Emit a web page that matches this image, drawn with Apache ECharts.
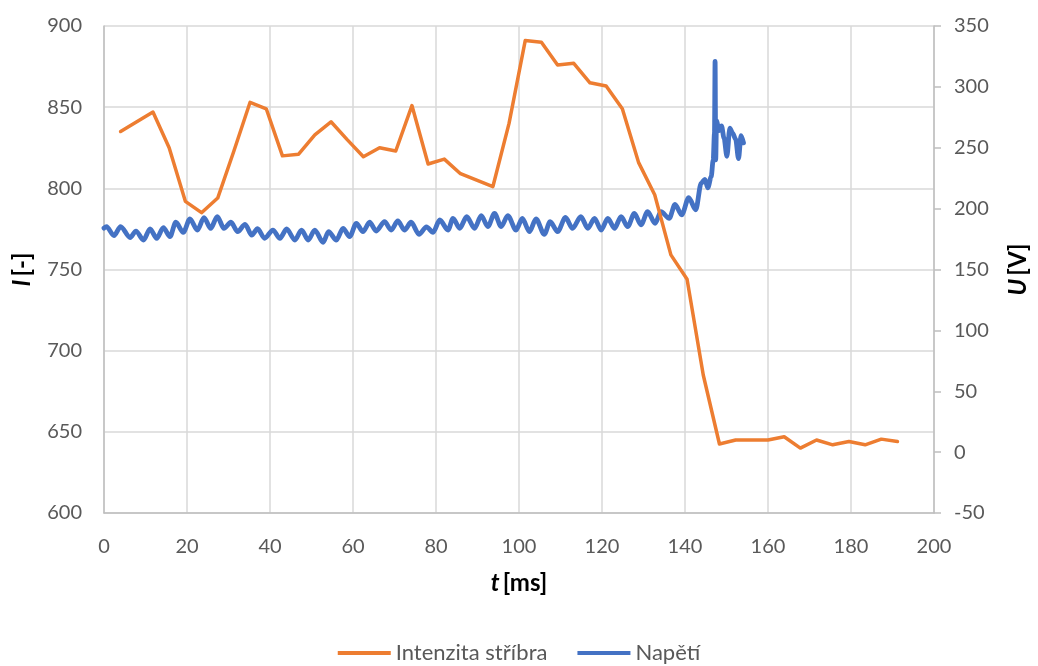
<!DOCTYPE html>
<html>
<head>
<meta charset="utf-8">
<script src="https://cdn.jsdelivr.net/npm/echarts@6/dist/echarts.min.js"></script>
<style>html,body{margin:0;padding:0;background:#fff}#c{width:1038px;height:666px}</style>
</head>
<body>
<div id="c"></div>
<script>
// Intenzita stříbra (left axis)
const silverT = [4.0,7.9,11.8,15.7,19.6,23.5,27.4,31.3,35.2,39.1,43.0,46.9,50.8,54.7,58.6,62.5,66.4,70.3,74.2,78.1,82.0,85.9,89.8,93.7,97.6,101.5,105.4,109.3,113.2,117.1,121.0,124.9,128.8,132.7,136.6,140.5,144.4,148.3,152.2,156.1,160.0,163.9,167.8,171.7,175.6,179.5,183.4,187.3,191.2];
const silverI = [835,841,847,825,792,785,794,823,853,849,820,821,833,841,830,819.5,825,823,851,815,818,809,805,801,840,891,890,876,877,865,863,849,816,796,759,744,685,642.5,645,645,645,647,640,645,642,644,642,645.5,644];

// Napětí (right axis)
const voltT = [0.0,0.6,2.4,4.0,6.3,7.7,9.5,11.1,12.7,14.3,15.9,17.3,19.1,20.7,22.5,24.1,25.7,27.3,28.9,30.6,32.2,34.0,35.6,37.0,38.7,40.7,42.4,44.0,46.0,47.6,49.2,50.8,52.8,54.1,56.0,57.6,59.2,60.8,62.4,64.0,65.6,67.6,69.2,70.8,72.4,74.0,75.9,77.7,79.3,80.9,82.9,84.1,85.7,87.4,89.3,90.9,92.5,94.1,95.7,97.3,99.3,100.8,102.5,104.1,106.1,107.5,109.3,111.2,112.9,114.9,116.6,118.2,119.8,121.4,123.0,124.6,126.2,127.8,129.4,131.0,132.8,134.2,136.2,137.6,139.2,140.9,142.6,143.9,144.8,145.5,146.3,146.8,147.1,147.25,147.4,147.6,148.2,148.8,149.4,150.1,150.8,151.5,152.2,152.9,153.5,154.1];
const voltU = [184,185.2,177.8,185.2,176.2,181.6,174.2,183.3,175.6,184.4,177,188.8,180.5,191.5,182.4,192.6,183.8,193.4,183.8,188.8,181.1,187.1,178.3,183.5,175.6,182.4,175.6,183.3,174.2,182.4,174.2,182.4,172.3,181.1,174.2,183.8,177,187.9,181.1,188.8,181.6,189.3,182.4,189.9,182.4,188.8,178.9,185.0,180.5,190.7,182.4,192.0,183.8,193.4,183.8,194.2,185.2,196.1,185.2,194.2,182.4,192.0,181.1,191.5,178.9,189.3,181.1,192.7,183.8,193.4,183.8,192.0,182.4,192.0,183.8,193.4,185.2,196.1,186.6,197.5,187.9,197.5,192.0,203.5,194.8,209,199,221,224,217,226,240,262,321,240,272,264,268,258,243,266,262,257,241,260,254];

const xTicks = [0, 200, 20];
const leftTicks = [600, 900, 50];
const rightTicks = [-50, 350, 50];

const silverData = silverT.map((t, i) => [t, silverI[i]]);
const voltData = voltT.map((t, i) => [t, voltU[i]]);

const FONT = 'Lato, "Open Sans", sans-serif';
const labelStyle = { color: '#595959', fontSize: 20, fontFamily: FONT };
const nameRich = {
  i: { fontStyle: 'italic', fontWeight: 'bold', fontSize: 24, color: '#000', fontFamily: FONT },
  n: { fontWeight: 'bold', fontSize: 24, color: '#000', fontFamily: FONT }
};

const chart = echarts.init(document.getElementById('c'), null, { renderer: 'canvas' });
chart.setOption({
  animation: false,
  backgroundColor: '#fff',
  grid: { left: 104, right: 103, top: 26, bottom: 153, containLabel: false },
  legend: {
    top: 637,
    left: 'center',
    itemWidth: 53,
    itemHeight: 4,
    itemGap: 30,
    icon: 'rect',
    textStyle: { color: '#595959', fontSize: 22, fontFamily: FONT },
    data: ['Intenzita stříbra', 'Napětí']
  },
  xAxis: {
    type: 'value',
    min: xTicks[0], max: xTicks[1], interval: xTicks[2],
    name: '{i|t} {n|[ms]}',
    nameLocation: 'middle',
    nameGap: 58,
    nameTextStyle: { rich: nameRich },
    axisLine: { show: true, onZero: false, lineStyle: { color: '#bfbfbf', width: 1.5 } },
    axisTick: { show: false },
    axisLabel: Object.assign({ margin: 24 }, labelStyle),
    splitLine: { show: true, lineStyle: { color: '#d9d9d9', width: 1.5 } }
  },
  yAxis: [{
    type: 'value',
    min: leftTicks[0], max: leftTicks[1], interval: leftTicks[2],
    name: '{i|I} {n|[-]}',
    nameLocation: 'middle',
    nameGap: 70,
    nameRotate: 90,
    nameTextStyle: { rich: nameRich },
    axisLine: { show: true, lineStyle: { color: '#bfbfbf', width: 1.5 } },
    axisTick: { show: false },
    axisLabel: Object.assign({ margin: 22 }, labelStyle),
    splitLine: { show: true, lineStyle: { color: '#d9d9d9', width: 1.5 } }
  }, {
    type: 'value',
    position: 'right',
    min: rightTicks[0], max: rightTicks[1], interval: rightTicks[2],
    name: '{i|U} {n|[V]}',
    nameLocation: 'middle',
    nameGap: 72,
    nameRotate: 90,
    nameTextStyle: { rich: nameRich },
    axisLine: { show: true, lineStyle: { color: '#bfbfbf', width: 1.5 } },
    axisTick: { show: true, length: 7, lineStyle: { color: '#bfbfbf', width: 1.5 } },
    axisLabel: Object.assign({ margin: 20 }, labelStyle),
    splitLine: { show: false }
  }],
  series: [{
    name: 'Intenzita stříbra',
    type: 'line',
    yAxisIndex: 0,
    data: silverData,
    showSymbol: false,
    z: 3,
    color: '#ED7D31',
    lineStyle: { color: '#ED7D31', width: 3.5, join: 'round', cap: 'round' }
  }, {
    name: 'Napětí',
    type: 'line',
    yAxisIndex: 1,
    data: voltData,
    showSymbol: false,
    smooth: 0.3,
    smoothMonotone: 'x',
    z: 2,
    color: '#4472C4',
    lineStyle: { color: '#4472C4', width: 4.8, join: 'round', cap: 'round' }
  }]
});
</script>
</body>
</html>
